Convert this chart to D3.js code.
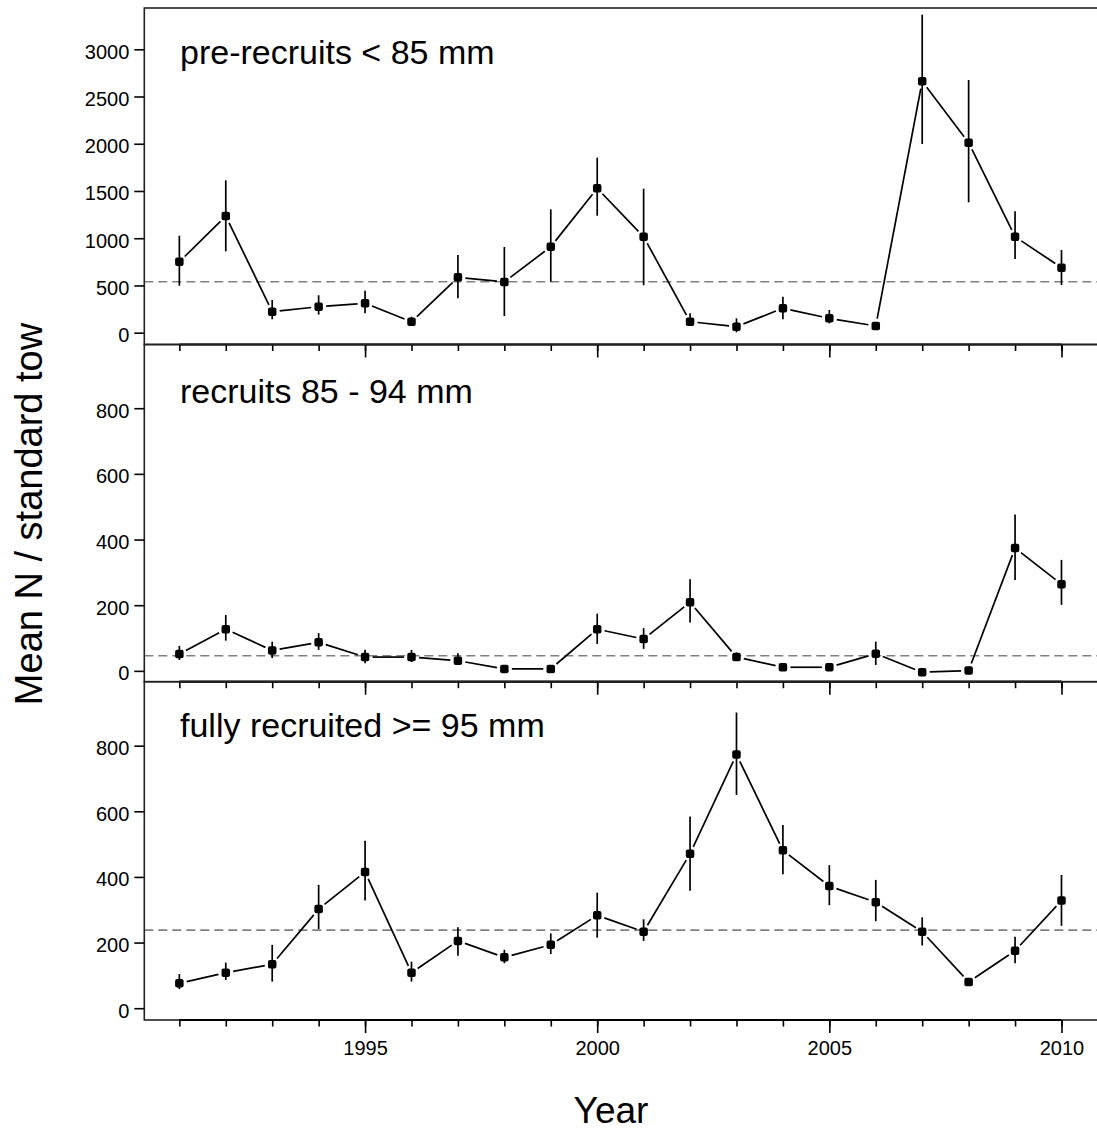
<!DOCTYPE html>
<html>
<head>
<meta charset="utf-8">
<script src="https://cdn.jsdelivr.net/npm/d3@7"></script>
<style>
  html, body { margin: 0; padding: 0; background: #fff; }
  svg { display: block; font-family: "Liberation Sans", Arial, sans-serif; }
</style>
</head>
<body>
<svg id="chart" width="1097" height="1131"></svg>
<script>
// ---------------- DATA ----------------
const years = [1991,1992,1993,1994,1995,1996,1997,1998,1999,2000,2001,2002,2003,2004,2005,2006,2007,2008,2009,2010];

const preLabel = "pre-recruits < 85 mm";
const preMean = [751,1235,222,275,311,116,586,537,910,1528,1016,116,64,258,152,71,2661,2011,1016,688];
const preLo   = [497,861,142,191,205,71,364,177,540,1238,502,81,4,142,99,45,1997,1380,780,505];
const preHi   = [1027,1613,346,396,445,169,822,907,1306,1852,1524,205,152,381,240,100,3366,2675,1285,875];
const preRef  = 540;
const preTicks = [0,500,1000,1500,2000,2500,3000];

const recLabel = "recruits 85 - 94 mm";
const recMean = [51,127,62,87,42,42,31,6,6,127,97,209,42,11,11,52,-4,1,374,264];
const recLo   = [33,92,39,64,23,27,18,2,2,82,67,147,30,6,6,18,-8,-3,277,201];
const recHi   = [76,170,89,115,64,64,54,10,10,174,130,279,56,16,16,89,0,5,476,338];
const recRef  = 46;
const recTicks = [0,200,400,600,800];

const fullLabel = "fully recruited >= 95 mm";
const fullMean = [76,108,134,302,415,108,205,155,193,283,233,471,773,481,372,323,233,80,175,328];
const fullLo   = [58,86,81,241,328,81,160,137,165,215,205,358,650,408,314,265,191,75,137,251];
const fullHi   = [104,139,193,376,510,142,247,178,228,352,271,584,901,558,436,391,277,85,218,406];
const fullRef  = 238;
const fullTicks = [0,200,400,600,800];

const majorYears = [1995,2000,2005,2010];
const xTitle = "Year";
const yTitle = "Mean N / standard tow";

// ---------------- LAYOUT ----------------
const svg = d3.select("#chart");
svg.append("rect").attr("width",1097).attr("height",1131).attr("fill","#fff");

const left = 144.3, right = 1097;
const x = d3.scaleLinear().domain([1990.245, 2010.765]).range([left, right]);

const panels = [
  {label: preLabel,  mean: preMean,  lo: preLo,  hi: preHi,  ref: preRef,  ticks: preTicks,  top: 8,     bottom: 344.5, domain: [-125, 3437], labelDy: 55.5},
  {label: recLabel,  mean: recMean,  lo: recLo,  hi: recHi,  ref: recRef,  ticks: recTicks,  top: 344.5, bottom: 681.7, domain: [-33, 994],   labelDy: 58.5},
  {label: fullLabel, mean: fullMean, lo: fullLo, hi: fullHi, ref: fullRef, ticks: fullTicks, top: 681.7, bottom: 1020,  domain: [-36, 995],   labelDy: 55.5}
];

const tickFont = 20;

panels.forEach((p, pi) => {
  const y = d3.scaleLinear().domain(p.domain).range([p.bottom, p.top]);
  const g = svg.append("g");
  const data = years.map((yr, i) => ({year: yr, m: p.mean[i], lo: p.lo[i], hi: p.hi[i]}));

  // reference dashed line
  g.append("line")
    .attr("x1", left).attr("x2", right)
    .attr("y1", y(p.ref)).attr("y2", y(p.ref))
    .attr("stroke", "#808080").attr("stroke-width", 1.6)
    .attr("stroke-dasharray", "9,5");

  // error bars
  g.selectAll(".err").data(data).enter().append("line")
    .attr("x1", d => x(d.year)).attr("x2", d => x(d.year))
    .attr("y1", d => y(d.lo)).attr("y2", d => y(d.hi))
    .attr("stroke", "#000").attr("stroke-width", 1.7);

  // connecting segments with gaps around points
  const gap = 7.5;
  for (let i = 0; i < data.length - 1; i++) {
    const x0 = x(data[i].year), y0 = y(data[i].m);
    const x1 = x(data[i+1].year), y1 = y(data[i+1].m);
    const dx = x1 - x0, dy = y1 - y0;
    const L = Math.sqrt(dx*dx + dy*dy);
    if (L <= 2*gap) continue;
    const ux = dx / L, uy = dy / L;
    g.append("line")
      .attr("x1", x0 + ux*gap).attr("y1", y0 + uy*gap)
      .attr("x2", x1 - ux*gap).attr("y2", y1 - uy*gap)
      .attr("stroke", "#000").attr("stroke-width", 1.7);
  }

  // markers
  const ms = 8.5;
  g.selectAll(".pt").data(data).enter().append("rect")
    .attr("x", d => x(d.year) - ms/2).attr("y", d => y(d.m) - ms/2)
    .attr("width", ms).attr("height", ms).attr("rx", 2)
    .attr("fill", "#000");

  // frame (right edge lies just outside the image)
  g.append("rect")
    .attr("x", left).attr("y", p.top)
    .attr("width", right + 2 - left).attr("height", p.bottom - p.top)
    .attr("fill", "none").attr("stroke", "#222").attr("stroke-width", 1.6);

  // y axis
  const ya = g.append("g").attr("transform", `translate(${left},0)`)
    .call(d3.axisLeft(y).tickValues(p.ticks).tickSize(10).tickPadding(5).tickFormat(d3.format("d")));
  ya.select(".domain").remove();
  ya.selectAll(".tick line").attr("stroke", "#000").attr("stroke-width", 1.6);
  ya.selectAll(".tick text").attr("font-size", tickFont).attr("fill", "#000")
    .attr("font-family", "Liberation Sans, Arial, sans-serif").attr("dy", "0.45em");

  // x axis at panel bottom (ticks point down)
  g.append("line")
    .attr("x1", x(years[0])).attr("x2", x(years[years.length-1]))
    .attr("y1", p.bottom).attr("y2", p.bottom)
    .attr("stroke", "#000").attr("stroke-width", 2.2);
  const xaMinor = g.append("g").attr("transform", `translate(0,${p.bottom})`)
    .call(d3.axisBottom(x).tickValues(years).tickSize(6.5).tickFormat(""));
  xaMinor.select(".domain").remove();
  xaMinor.selectAll(".tick line").attr("stroke", "#000").attr("stroke-width", 1.6);
  const isLast = pi === panels.length - 1;
  const xaMajor = g.append("g").attr("transform", `translate(0,${p.bottom})`)
    .call(d3.axisBottom(x).tickValues(majorYears).tickSize(13).tickPadding(8)
      .tickFormat(isLast ? d3.format("d") : ""));
  xaMajor.select(".domain").remove();
  xaMajor.selectAll(".tick line").attr("stroke", "#000").attr("stroke-width", 1.6);
  xaMajor.selectAll(".tick text").attr("font-size", tickFont).attr("fill", "#000")
    .attr("font-family", "Liberation Sans, Arial, sans-serif");

  // panel label
  g.append("text")
    .attr("x", 180).attr("y", p.top + p.labelDy)
    .attr("font-size", 34).attr("fill", "#000")
    .text(p.label);
});

// axis titles
svg.append("text")
  .attr("x", 611).attr("y", 1123)
  .attr("text-anchor", "middle").attr("font-size", 37).attr("fill", "#000")
  .text(xTitle);

svg.append("text")
  .attr("transform", "translate(42,514) rotate(-90)")
  .attr("text-anchor", "middle").attr("font-size", 38).attr("fill", "#000")
  .text(yTitle);
</script>
</body>
</html>
